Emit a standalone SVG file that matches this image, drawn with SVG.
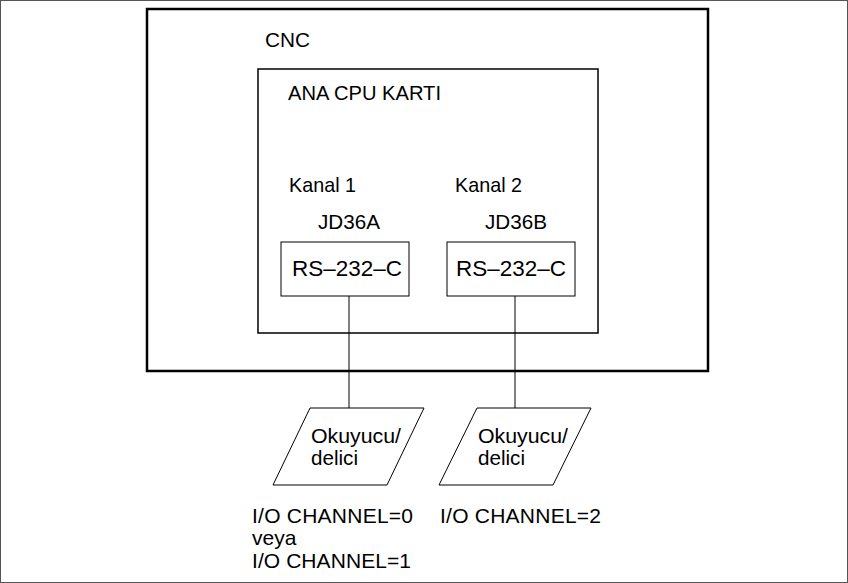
<svg xmlns="http://www.w3.org/2000/svg" width="848" height="583" viewBox="0 0 848 583">
<style>
text{font-family:"Liberation Sans",Arial,sans-serif;font-size:21px;fill:#000}
.b{fill:none;stroke:#000}
.rs{font-size:22px}
</style>
<rect x="0" y="0" width="848" height="583" fill="#fff"/>
<rect x="0.5" y="0.5" width="847" height="582" fill="none" stroke="#555" stroke-width="1"/>
<g id="cnc">
<rect class="b" x="147" y="9" width="561" height="362" stroke-width="2.5"/>
<text x="265" y="47" textLength="45" lengthAdjust="spacingAndGlyphs">CNC</text>
</g>
<g id="cpu">
<rect class="b" x="258" y="69" width="340" height="264" stroke-width="1.5"/>
<text x="288" y="100" textLength="153" lengthAdjust="spacingAndGlyphs">ANA CPU KARTI</text>
<text x="289" y="192" textLength="67" lengthAdjust="spacingAndGlyphs">Kanal 1</text>
<text x="455" y="192" textLength="67" lengthAdjust="spacingAndGlyphs">Kanal 2</text>
<text x="318" y="229" textLength="62" lengthAdjust="spacingAndGlyphs">JD36A</text>
<text x="485" y="229" textLength="62" lengthAdjust="spacingAndGlyphs">JD36B</text>
</g>
<g id="rs1">
<rect class="b" x="281" y="242" width="128" height="54" stroke-width="1"/>
<text class="rs" x="292" y="276" textLength="110" lengthAdjust="spacingAndGlyphs">RS–232–C</text>
</g>
<g id="rs2">
<rect class="b" x="447" y="242" width="128" height="54" stroke-width="1"/>
<text class="rs" x="456" y="276" textLength="110" lengthAdjust="spacingAndGlyphs">RS–232–C</text>
</g>
<g id="connectors">
<line class="b" x1="349" y1="296" x2="349" y2="408" stroke-width="1"/>
<line class="b" x1="515" y1="296" x2="515" y2="408" stroke-width="1"/>
</g>
<g id="reader1">
<polygon class="b" points="310,408 424,408 387,485 273,485" stroke-width="1"/>
<text x="311" y="443" textLength="90" lengthAdjust="spacingAndGlyphs">Okuyucu/</text>
<text x="311" y="465" textLength="47" lengthAdjust="spacingAndGlyphs">delici</text>
</g>
<g id="reader2">
<polygon class="b" points="477,408 591,408 553,485 439,485" stroke-width="1"/>
<text x="478" y="443" textLength="90" lengthAdjust="spacingAndGlyphs">Okuyucu/</text>
<text x="478" y="465" textLength="47" lengthAdjust="spacingAndGlyphs">delici</text>
</g>
<g id="labels">
<text x="252" y="523" textLength="161" lengthAdjust="spacing">I/O CHANNEL=0</text>
<text x="252" y="545">veya</text>
<text x="252" y="568" textLength="159" lengthAdjust="spacing">I/O CHANNEL=1</text>
<text x="440" y="523" textLength="161" lengthAdjust="spacing">I/O CHANNEL=2</text>
</g>
</svg>
